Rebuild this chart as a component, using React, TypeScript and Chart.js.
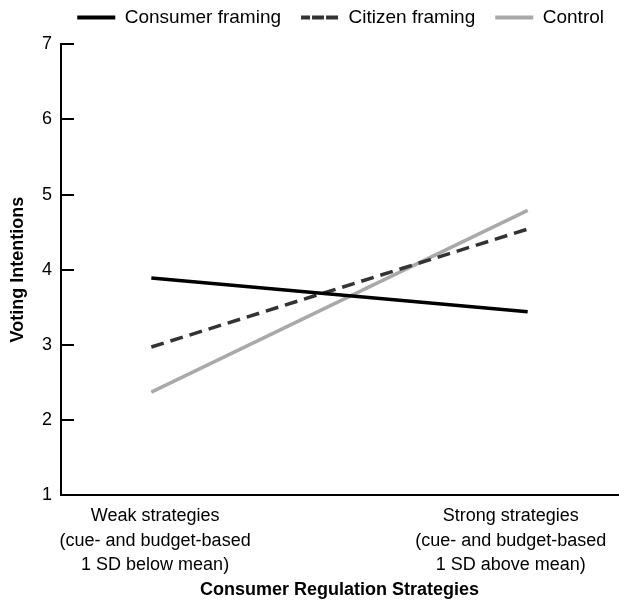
import React, { useEffect, useRef } from 'react';
import { Chart, registerables } from 'chart.js';

Chart.register(...registerables);

const FONT = "'Liberation Sans', Arial, Helvetica, sans-serif";

// Data
const categories = [0, 1];
const xTickLabels = [
  ['Weak strategies', '(cue- and budget-based', '1 SD below mean)'],
  ['Strong strategies', '(cue- and budget-based', '1 SD above mean)'],
];
const seriesNames = ['Consumer framing', 'Citizen framing', 'Control'];
const consumerFraming = [3.89, 3.44];
const citizenFraming = [2.97, 4.54];
const controlGroup = [2.37, 4.79];
const yTicks = [1, 2, 3, 4, 5, 6, 7];

export default function App() {
  const canvasRef = useRef<HTMLCanvasElement | null>(null);

  useEffect(() => {
    if (!canvasRef.current) return;
    Chart.defaults.font.family = FONT;
    Chart.defaults.color = '#000';
    const toPoints = (arr: number[]) => arr.map((y, i) => ({ x: categories[i], y }));
    const chart = new Chart(canvasRef.current, {
      type: 'line',
      data: {
        datasets: [
          {
            label: seriesNames[0],
            data: toPoints(consumerFraming),
            borderColor: '#000000',
            backgroundColor: '#000000',
            borderWidth: 3.5,
            pointRadius: 0,
            borderCapStyle: 'butt',
          },
          {
            label: seriesNames[1],
            data: toPoints(citizenFraming),
            borderColor: '#333333',
            backgroundColor: '#333333',
            borderWidth: 3.5,
            borderDash: [13, 7],
            pointRadius: 0,
            borderCapStyle: 'butt',
          },
          {
            label: seriesNames[2],
            data: toPoints(controlGroup),
            borderColor: '#a9a9a9',
            backgroundColor: '#a9a9a9',
            borderWidth: 3.5,
            pointRadius: 0,
            borderCapStyle: 'butt',
          },
        ],
      },
      options: {
        animation: false,
        responsive: false,
        layout: { padding: 0 },
        plugins: {
          legend: {
            position: 'top',
            align: 'end',
            labels: {
              color: '#000',
              font: { size: 19, family: FONT },
              boxWidth: 38,
              boxHeight: 0,
              padding: 20,
              generateLabels: (chart: any) =>
                chart.data.datasets.map((ds: any, i: number) => ({
                  text: ds.label,
                  fillStyle: 'rgba(0,0,0,0)',
                  strokeStyle: ds.borderColor,
                  lineWidth: 4,
                  lineDash: i === 1 ? [9, 5] : [],
                  lineCap: 'butt',
                  hidden: false,
                  datasetIndex: i,
                  fontColor: '#000',
                })),
            },
          },
          title: {
            display: true,
            text: '',
            weight: 500,
            padding: { top: 6.3, bottom: 0 },
            font: { size: 1, lineHeight: 1 },
          } as any,
          tooltip: { enabled: false },
        },
        scales: {
          x: {
            type: 'linear',
            min: -0.24,
            max: 1.24,
            afterBuildTicks: (axis: any) => {
              axis.ticks = [{ value: 0.01 }, { value: 0.955 }];
            },
            afterFit: (axis: any) => {
              axis.height = 106;
            },
            grid: { display: false, drawTicks: false },
            border: { display: true, color: '#000', width: 2 },
            ticks: {
              padding: 9,
              color: '#000',
              maxRotation: 0,
              autoSkip: false,
              font: { size: 18, family: FONT, lineHeight: 1.36 },
              callback: (_v: any, i: number) => xTickLabels[i],
            },
            title: {
              display: true,
              text: 'Consumer Regulation Strategies',
              color: '#000',
              font: { size: 18, weight: 'bold', family: FONT },
              padding: { top: 0, bottom: 0 },
            },
          },
          y: {
            type: 'linear',
            min: 1,
            max: 7,
            afterBuildTicks: (axis: any) => {
              axis.ticks = yTicks.map((v) => ({ value: v }));
            },
            afterFit: (axis: any) => {
              axis.width = 61;
            },
            grid: {
              display: true,
              drawOnChartArea: false,
              drawTicks: true,
              tickLength: -13,
              color: '#000',
              lineWidth: 2,
            },
            border: { display: true, color: '#000', width: 2 },
            ticks: { padding: 22, color: '#000', font: { size: 18, family: FONT } },
            title: {
              display: true,
              text: 'Voting Intentions',
              color: '#000',
              font: { size: 18, weight: 'bold', family: FONT },
              padding: { top: 7, bottom: 0 },
            },
          },
          yRight: {
            type: 'linear',
            position: 'right',
            display: true,
            grid: { display: false },
            border: { display: false },
            ticks: { display: false },
            afterFit: (axis: any) => {
              axis.width = 6;
            },
          },
        },
      } as any,
    });
    return () => chart.destroy();
  }, []);

  return (
    <div
      style={{
        position: 'fixed',
        left: 0,
        top: 0,
        width: 619,
        height: 601,
        overflow: 'hidden',
        background: '#fff',
      }}
    >
      <canvas
        ref={canvasRef}
        width={624}
        height={613}
        style={{ position: 'absolute', left: 0, top: -12, display: 'block' }}
      />
    </div>
  );
}
